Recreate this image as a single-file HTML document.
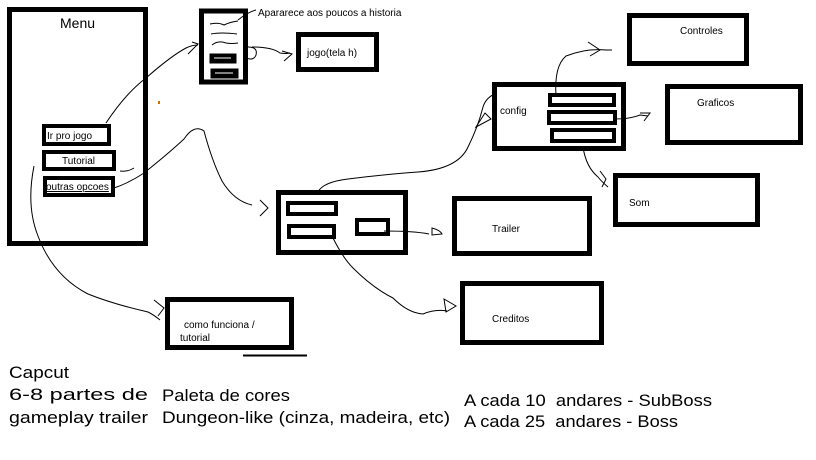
<!DOCTYPE html>
<html><head><meta charset="utf-8"><style>
html,body{margin:0;padding:0;background:#fff;width:816px;height:460px;overflow:hidden}
svg{display:block}
text{font-family:"Liberation Sans",sans-serif;fill:#000}
</style></head><body>
<svg width="816" height="460" viewBox="0 0 816 460" xmlns="http://www.w3.org/2000/svg">
<g fill="none" stroke="#000">
<rect x="9.5" y="9.5" width="136" height="234" stroke-width="5"/>
<rect x="44" y="126" width="65" height="18" stroke-width="4"/>
<rect x="44" y="152" width="70" height="17" stroke-width="4"/>
<rect x="45" y="178" width="68" height="17" stroke-width="4"/>
<rect x="201.5" y="11" width="44" height="71" stroke-width="5"/>
<rect x="210" y="54" width="26" height="9" fill="#000" stroke-width="1"/>
<line x1="214" y1="58" x2="231" y2="58" stroke="#fff" stroke-width="1"/>
<rect x="211" y="69" width="27" height="9" fill="#000" stroke-width="1"/>
<line x1="215" y1="73" x2="233" y2="73" stroke="#fff" stroke-width="1"/>
<path d="M210 24 q8 -2 14 1 q6 -3 14 -4 M211 34 q10 -2 26 0 M212 45 q6 -5 14 -2 q6 1 12 0" stroke-width="1"/>
<path d="M238 20 q10 -8 18 -10" stroke-width="1"/>
<rect x="298.5" y="34.5" width="78" height="35" stroke-width="5"/>
<path d="M248 47 q10 0 8 8 q-2 6 -10 3 M252 47 q20 0 28 6 q6 1 10 0" stroke-width="1"/>
<path d="M282 51 l10 3 l-8 7" stroke-width="1"/>
<rect x="278.5" y="192.5" width="127" height="60" stroke-width="5"/>
<rect x="288" y="203" width="48" height="11" stroke-width="4"/>
<rect x="289" y="226" width="45" height="11" stroke-width="4"/>
<rect x="357" y="220" width="31" height="14" stroke-width="4"/>
<rect x="494.5" y="84.5" width="129" height="64" stroke-width="5"/>
<rect x="550" y="95" width="64" height="10" stroke-width="4"/>
<rect x="549" y="112" width="66" height="11" stroke-width="4"/>
<rect x="552" y="130" width="62" height="11" stroke-width="4"/>
<rect x="629.5" y="15.5" width="117" height="48" stroke-width="5"/>
<rect x="667.5" y="86.5" width="133" height="56" stroke-width="5"/>
<rect x="615.5" y="175.5" width="142" height="49" stroke-width="5"/>
<rect x="454.5" y="198.5" width="135" height="55" stroke-width="5"/>
<rect x="462.5" y="283.5" width="139" height="59" stroke-width="5"/>
<rect x="167.5" y="299.5" width="124" height="48" stroke-width="5"/>
<line x1="243" y1="355.5" x2="307" y2="355.5" stroke-width="2"/>
<g stroke-width="1">
<path d="M106 123 q20 -30 40 -45 q25 -22 40 -30 q6 -3 12 -3"/>
<path d="M188 54 l10 -10 l-6 -2"/>
<path d="M114 188 q15 -5 30 -15 q25 -20 40 -34 q10 -15 20 -8 q8 30 18 50 q12 20 30 24"/>
<path d="M260 200 l8 8 l-8 8"/>
<path d="M120 171 q8 1 14 -3"/>
<path d="M34 166 q-8 40 4 70 q15 40 50 58 q25 10 60 18 q6 3 12 8"/>
<path d="M154 300 l10 8 l-6 8"/>
<path d="M318 192 q5 -10 30 -13 q40 -5 70 -7 q40 -3 50 -25 q10 -20 15 -40 q3 -10 14 -14"/>
<path d="M476 127 l15 -8 l-6 -6 z"/>
<path d="M384 231 q30 0 45 3"/>
<path d="M432 228 q8 2 10 6 l-10 1 z"/>
<path d="M333 238 q10 20 20 30 q20 20 40 30 q15 15 30 16 q12 -5 24 -3"/>
<path d="M444 299 l12 7 l-10 6 z"/>
<path d="M583 147 q3 20 15 30 q4 5 10 10"/>
<path d="M600 171 l6 8 l-4 8"/>
<path d="M615 119 q15 0 25 -4 l8 1"/>
<path d="M640 113 l10 0 l-6 8"/>
<path d="M556 96 q-2 -30 10 -40 q20 -8 40 -6 q2 0 6 0"/>
<path d="M588 42 l12 8 l-10 6"/>
</g>
</g>
<rect x="158" y="101" width="2" height="3" fill="#d07000"/>
<text x="60" y="28" font-size="14">Menu</text>
<text x="47" y="139" font-size="10">Ir pro jogo</text>
<text x="62" y="164" font-size="10">Tutorial</text>
<text x="46" y="190" font-size="10" text-decoration="underline">outras opcoes</text>
<text x="258" y="16" font-size="10">Apararece aos poucos a historia</text>
<text x="307" y="56" font-size="10">jogo(tela h)</text>
<text x="500" y="114" font-size="10">config</text>
<text x="680" y="34" font-size="10">Controles</text>
<text x="697" y="106" font-size="10">Graficos</text>
<text x="629" y="206" font-size="10">Som</text>
<text x="492" y="232" font-size="10">Trailer</text>
<text x="492" y="322" font-size="10">Creditos</text>
<text x="184" y="328" font-size="10">como funciona /</text>
<text x="180" y="341" font-size="10">tutorial</text>
<text x="9" y="378" font-size="17" textLength="60" lengthAdjust="spacingAndGlyphs">Capcut</text>
<text x="9" y="400" font-size="17" textLength="139" lengthAdjust="spacingAndGlyphs">6-8 partes de</text>
<text x="9" y="423" font-size="17" textLength="139" lengthAdjust="spacingAndGlyphs">gameplay trailer</text>
<text x="162" y="401" font-size="17" textLength="128" lengthAdjust="spacingAndGlyphs">Paleta de cores</text>
<text x="162" y="423" font-size="17" textLength="288" lengthAdjust="spacingAndGlyphs">Dungeon-like (cinza, madeira, etc)</text>
<text x="464" y="406" font-size="17" xml:space="preserve" textLength="248" lengthAdjust="spacingAndGlyphs">A cada 10  andares - SubBoss</text>
<text x="464" y="427" font-size="17" xml:space="preserve" textLength="214" lengthAdjust="spacingAndGlyphs">A cada 25  andares - Boss</text>
</svg>
</body></html>
